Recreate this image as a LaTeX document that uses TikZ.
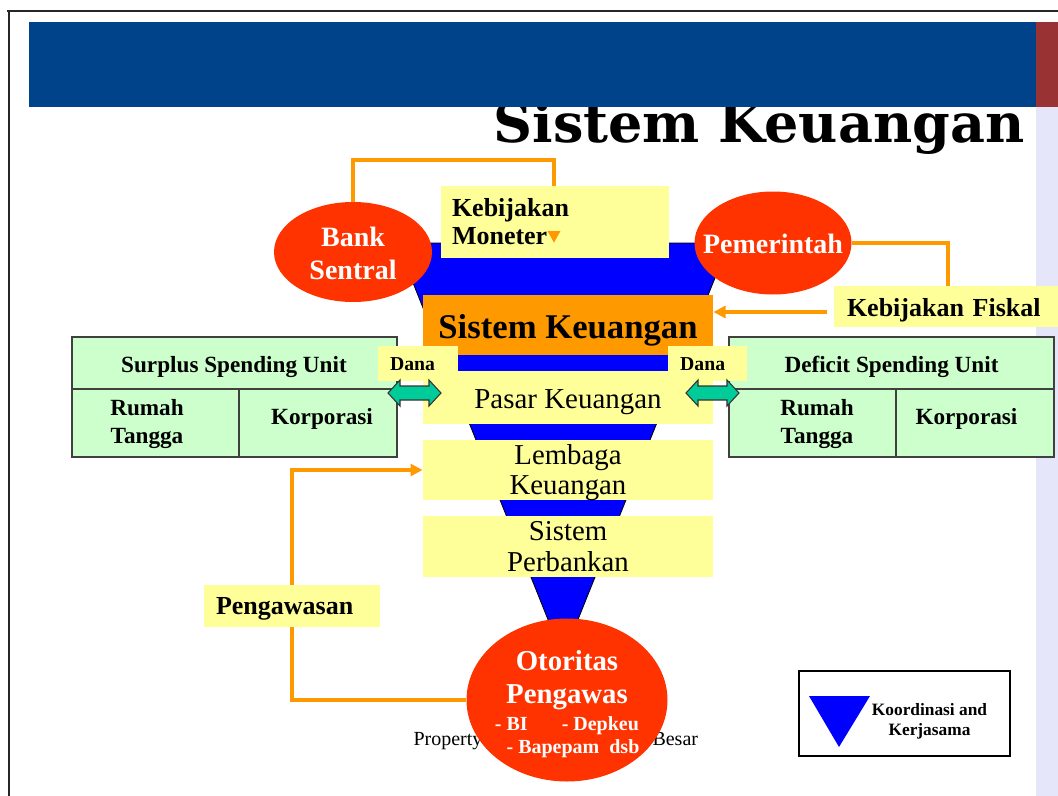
\documentclass[tikz,border=0pt]{standalone}
\usepackage{fontspec}
\setmainfont{Liberation Serif}
\newfontfamily\titlefont{DejaVu Serif}
\usetikzlibrary{arrows.meta,shapes.geometric}

\definecolor{bannerblue}{RGB}{0,67,138}
\definecolor{stripred}{RGB}{153,51,51}
\definecolor{striplilac}{RGB}{230,230,250}
\definecolor{ovalred}{RGB}{255,51,0}
\definecolor{funnelblue}{RGB}{0,0,255}
\definecolor{boxyellow}{RGB}{255,255,153}
\definecolor{boxorange}{RGB}{255,153,0}
\definecolor{unitgreen}{RGB}{204,255,204}
\definecolor{danateal}{RGB}{0,204,153}

\tikzset{every picture/.style={line width=0.75pt}}
\tikzset{
  linkline/.style={draw=boxorange, line width=3pt},
  linkarrow/.style={linkline, -{Triangle[length=9pt,width=9pt]}},
  ybox/.style={rectangle, fill=boxyellow, inner sep=0pt},
  oval/.style={ellipse, fill=ovalred, text=white, inner sep=0pt, align=center, font=\bfseries},
  ovaltext/.style={text=white, inner sep=0pt, align=center},
  unitbox/.style={fill=unitgreen, draw=black!75, line width=1.1pt},
  unittext/.style={font=\bfseries\fontsize{17.4}{21}\selectfont, align=center},
  danaarrow/.pic={
    \draw[fill=danateal, draw=black!80, line width=0.8pt] (-26.5,0) -- (-14.5,-13) -- (-14.5,-7) -- (14.5,-7) -- (14.5,-13) -- (26.5,0) -- (14.5,13) -- (14.5,7) -- (-14.5,7) -- (-14.5,13) -- cycle;
  }
}

\begin{document}
\begin{tikzpicture}[x=0.75pt,y=0.75pt,yscale=-1,xscale=1]
	\useasboundingbox (0,0) rectangle (1058,796);

	%Shape: Rectangle [side strip]
	\fill[striplilac] (1036,107) rectangle (1062,800);
	%Straight Lines [frame]
	\draw[line width=1.5pt, black!85] (7,10.5) -- (1062,10.5);
	\draw[line width=1.5pt, black!85] (8.5,10) -- (8.5,800);

	% Text Node
	\node[anchor=base east, inner sep=0pt, font=\titlefont\bfseries\fontsize{40.5}{44}\selectfont] (title) at (1025,142) {Sistem Keuangan};

	%Shape: Rectangle [banner]
	\fill[bannerblue] (29,22) rectangle (1036,107);
	\fill[stripred] (1036,22) rectangle (1062,107);

	%Shape: Triangle [funnel]
	\draw[fill=funnelblue, line width=0.6pt] (397,243) -- (729,243) -- (563,657) -- cycle;

	%Shape: Ellipse
	\node[oval, minimum width=118.5pt, minimum height=75pt] (bank) at (353,252) {};
	\node[ovaltext, font=\bfseries\fontsize{21}{24.75}\selectfont] (banktxt) at (353,253) {Bank\\Sentral};
	\node[oval, minimum width=117.75pt, minimum height=77.25pt] (pem) at (773,243) {};
	\node[ovaltext, anchor=base, font=\bfseries\fontsize{21}{25}\selectfont] (pemtxt) at (773,253) {Pemerintah};

	%Straight Lines
	\coordinate (monturn) at (554,160);
	\coordinate (montip) at (554,243);
	\draw[linkarrow] (bank.north) |- (monturn) -- (montip);

	%Shape: Rectangle
	\node[ybox, minimum width=171pt, minimum height=54pt, text width=154.5pt, align=left, font=\bfseries\fontsize{19.5}{21}\selectfont] (moneter) at (555,222) {Kebijakan\\Moneter};
	\coordinate (monmid) at (554,233);
	\draw[linkarrow] (monmid) -- (montip);

	\node[ybox, minimum width=171pt, minimum height=30.75pt, text width=151.5pt, align=left, text height=14.25pt, text depth=0pt, font=\bfseries\fontsize{19.5}{21}\selectfont] (fiskal) at (948,306.5) {Kebijakan Fiskal};
	\draw[linkline] (pem.east) -| (fiskal.north);

	\node[rectangle, fill=boxorange, inner sep=0pt, minimum width=217.5pt, minimum height=45pt, text height=19.5pt, text depth=0pt, font=\bfseries\fontsize{26}{30}\selectfont] (sk) at (568,325) {Sistem Keuangan};
	\coordinate (fisout) at (827,312);
	\draw[linkarrow] (fisout) -- (sk.east |- fisout);

	%Shape: Rectangle [surplus spending unit]
	\draw[unitbox] (72,337) rectangle (397,457);
	\draw[unitbox] (72,389) -- (397,389);
	\draw[unitbox] (239,389) -- (239,457);
	% Text Node
	\node[unittext, anchor=base] (ssu) at (234,372) {Surplus Spending Unit};
	\node[unittext] (ssurt) at (147,424) {Rumah\\Tangga};
	\node[unittext, anchor=base] (ssukor) at (322,424) {Korporasi};

	%Shape: Rectangle [deficit spending unit]
	\draw[unitbox] (729,337) rectangle (1054,457);
	\draw[unitbox] (729,389) -- (1054,389);
	\draw[unitbox] (896,389) -- (896,457);
	% Text Node
	\node[unittext, anchor=base] (dsu) at (891.5,372) {Deficit Spending Unit};
	\node[unittext] (dsurt) at (817,424) {Rumah\\Tangga};
	\node[unittext, anchor=base] (dsukor) at (966.5,424) {Korporasi};

	%Shape: Rectangle
	\node[ybox, minimum width=217.5pt, minimum height=39.75pt, text height=15.75pt, text depth=0pt, font=\fontsize{21.7}{25}\selectfont] (pasar) at (568,397.5) {Pasar Keuangan};
	\node[ybox, minimum width=60pt, minimum height=26.25pt, text width=42pt, align=left, text height=10.8pt, text depth=0pt, font=\bfseries\fontsize{14.8}{17}\selectfont] (danaL) at (418,363.5) {Dana};
	\node[ybox, minimum width=59.25pt, minimum height=26.25pt, text width=41pt, align=left, text height=10.8pt, text depth=0pt, font=\bfseries\fontsize{14.8}{17}\selectfont] (danaR) at (707.5,363.5) {Dana};
	\node[ybox, minimum width=217.5pt, minimum height=45pt] (lemb) at (568,470) {};
	\node[align=center, inner sep=0pt, font=\fontsize{21.6}{22.5}\selectfont] (lembtxt) at (568,473) {Lembaga\\Keuangan};
	\node[ybox, minimum width=217.5pt, minimum height=45.75pt, align=center, font=\fontsize{21.6}{23}\selectfont] (bankin) at (568,546.5) {Sistem\\Perbankan};

	% Text Node
	\node[anchor=base west, inner sep=0pt, font=\fontsize{15}{17}\selectfont] (propL) at (413,745) {Property};
	\node[anchor=base west, inner sep=0pt, font=\fontsize{15}{17}\selectfont] (propR) at (652,745) {Besar};

	%Shape: Ellipse
	\coordinate (pengturn) at (292,470);
	\node[oval, minimum width=150.75pt, minimum height=122.25pt] (otor) at (567,700) {};
	\node[ovaltext, font=\bfseries\fontsize{21.6}{24.75}\selectfont] (otortxt) at (567,704) {Otoritas\\Pengawas\\[-4.5pt]{\fontsize{15}{17.25}\selectfont - BI\hspace{1.7em}- Depkeu}\\[-7.5pt]{\fontsize{15}{17.25}\selectfont \hspace{0.6em}- Bapepam\ \ dsb}};
	%Straight Lines
	\draw[linkarrow] (otor.west) -| (pengturn) -- (lemb.west);

	\node[ybox, minimum width=132pt, minimum height=31.5pt, text width=114pt, align=left, text height=12.5pt, text depth=0pt, font=\bfseries\fontsize{19.5}{21}\selectfont] (peng) at (292,606) {Pengawasan};

	%Shape: Double Arrow
	\pic (arrowL) at (414.5,393) {danaarrow};
	\pic (arrowR) at (712.5,393) {danaarrow};

	%Shape: Rectangle [legend]
	\draw[line width=1pt, fill=white] (799,671) rectangle (1010,756);
	\fill[funnelblue] (809,696) -- (870,696) -- (839,747) -- cycle;
	% Text Node
	\node[align=center, inner sep=0pt, font=\bfseries\fontsize{13}{15}\selectfont] (kerja) at (929.5,721) {Koordinasi and\\Kerjasama};

\end{tikzpicture}
\end{document}
